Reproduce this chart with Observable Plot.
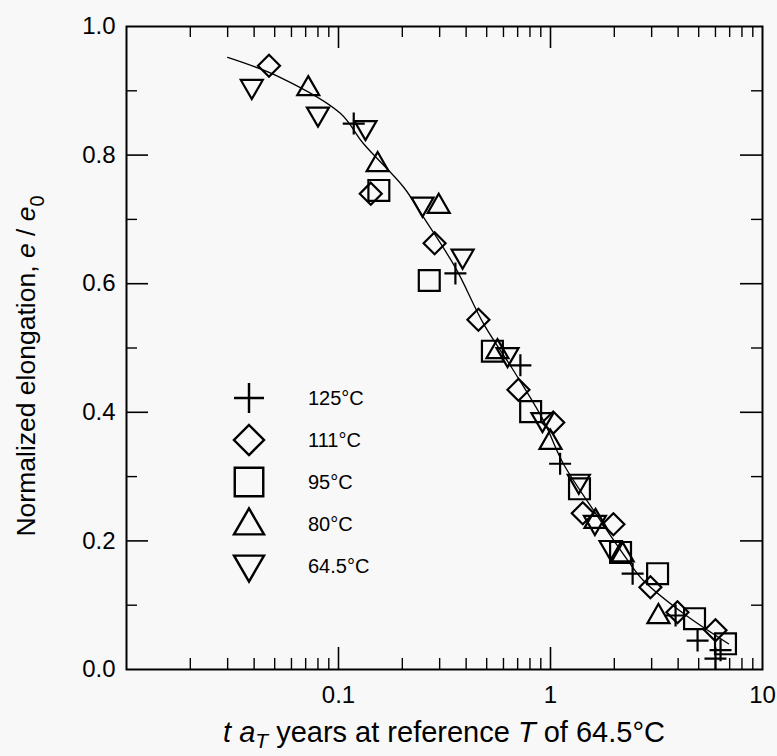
<!DOCTYPE html>
<html>
<head>
<meta charset="utf-8">
<script src="https://cdn.jsdelivr.net/npm/d3@7"></script>
<script src="https://cdn.jsdelivr.net/npm/@observablehq/plot@0.6"></script>
<style>
  html, body { margin: 0; padding: 0; background: #f8f8f8; }
  #wrap { position: relative; width: 777px; height: 756px; overflow: hidden;
          font-family: "Liberation Sans", Arial, sans-serif; color: #000; }
  #chart svg { display: block; }
  .xtitle { position: absolute; left: 0; width: 888px; text-align: center; top: 716px;
            font-size: 29px; line-height: 32px; white-space: nowrap; }
  .xtitle sub { font-size: 0.72em; vertical-align: -0.3em; line-height: 0; }
  .ytitle { position: absolute; left: 26px; top: 366px; transform: translate(-50%, -50%) rotate(-90deg);
            font-size: 26.5px; line-height: 30px; white-space: nowrap; }
  .ytitle sub { font-size: 0.75em; vertical-align: -0.45em; line-height: 0; }
  #legend { position: absolute; left: 234px; top: 383px; }
  .leg-swatches { font-family: "Liberation Sans", Arial, sans-serif; font-size: 20px; margin: 0; color: #000; }
  .leg-swatch { padding-bottom: 12px; }
  .leg-swatch > svg { margin-right: 44px; }
</style>
</head>
<body>
<div id="wrap">
  <div id="chart"></div>
  <div id="legend"></div>
  <div class="ytitle">Normalized elongation, <i>e</i> / <i>e</i><sub>0</sub></div>
  <div class="xtitle"><i>t a</i><sub><i>T</i></sub> years at reference <i>T</i> of 64.5°C</div>
</div>
<script>
// ---- data ----
const seriesNames = ["125°C", "111°C", "95°C", "80°C", "64.5°C"];

const plusX = [0.118, 0.356, 0.721, 1.11, 2.44, 3.89, 4.94, 6.0, 6.34];
const plusY = [0.849, 0.616, 0.473, 0.320, 0.149, 0.084, 0.045, 0.017, 0.030];

const diamondX = [0.047, 0.142, 0.284, 0.457, 0.706, 1.03, 1.42, 1.98, 2.96, 3.97, 6.0];
const diamondY = [0.939, 0.740, 0.663, 0.544, 0.435, 0.384, 0.243, 0.226, 0.128, 0.089, 0.061];

const squareX = [0.155, 0.268, 0.532, 0.806, 1.37, 2.14, 3.2, 4.78, 6.69];
const squareY = [0.745, 0.605, 0.495, 0.401, 0.281, 0.182, 0.149, 0.079, 0.040];

const triUpX = [0.072, 0.153, 0.297, 0.562, 1.0, 1.63, 2.19, 3.23];
const triUpY = [0.905, 0.787, 0.722, 0.496, 0.355, 0.232, 0.180, 0.084];

const triDownX = [0.039, 0.080, 0.134, 0.249, 0.385, 0.627, 0.916, 1.36, 1.62, 1.92];
const triDownY = [0.905, 0.862, 0.841, 0.722, 0.641, 0.488, 0.387, 0.291, 0.227, 0.188];

// fitted master curve
const curveX = [0.030, 0.053, 0.102, 0.131, 0.203, 0.252, 0.356, 0.483, 0.669, 0.927, 1.15, 1.60, 2.31, 2.75, 4.24, 6.91];
const curveY = [0.952, 0.921, 0.865, 0.818, 0.750, 0.703, 0.625, 0.538, 0.465, 0.387, 0.320, 0.247, 0.170, 0.138, 0.087, 0.040];

// axis ticks
const xTickLabels = [0.1, 1, 10];
const xMajorTicks = [0.1, 1];
const xMinorTicks = [0.02,0.03,0.04,0.05,0.06,0.07,0.08,0.09, 0.2,0.3,0.4,0.5,0.6,0.7,0.8,0.9, 2,3,4,5,6,7,8,9];
const yTickLabels = [0, 0.2, 0.4, 0.6, 0.8, 1.0];
const yMajorTicks = [0.2, 0.4, 0.6, 0.8];
const yMinorTicks = [0.1, 0.3, 0.5, 0.7, 0.9];

// ---- symbols ----
const rad = (size) => Math.sqrt(size / Math.PI);
const symPlus = { draw(c, size) { const h = rad(size); c.moveTo(-h, 0); c.lineTo(h, 0); c.moveTo(0, -h); c.lineTo(0, h); } };
const symDiamond = { draw(c, size) { const h = rad(size); c.moveTo(0, -h); c.lineTo(h, 0); c.lineTo(0, h); c.lineTo(-h, 0); c.closePath(); } };
const symSquare = { draw(c, size) { const h = rad(size) * 0.95; c.moveTo(-h, -h); c.lineTo(h, -h); c.lineTo(h, h); c.lineTo(-h, h); c.closePath(); } };
const symUp = { draw(c, size) { const h = rad(size); const t = h * 0.866 * 2; c.moveTo(0, -t * 0.6); c.lineTo(h, t * 0.4); c.lineTo(-h, t * 0.4); c.closePath(); } };
const symDown = { draw(c, size) { const h = rad(size); const t = h * 0.866 * 2; c.moveTo(0, t * 0.6); c.lineTo(h, -t * 0.4); c.lineTo(-h, -t * 0.4); c.closePath(); } };
const symbolRange = [symPlus, symDiamond, symSquare, symUp, symDown];

// ---- build table ----
const seriesX = [plusX, diamondX, squareX, triUpX, triDownX];
const seriesY = [plusY, diamondY, squareY, triUpY, triDownY];
const points = seriesNames.flatMap((name, k) => seriesX[k].map((x, i) => ({x, y: seriesY[k][i], series: name})));
const curve = curveX.map((x, i) => ({x, y: curveY[i]}));

const W = 777, H = 756, mL = 126, mR = 15, mT = 26, mB = 87;
const fw = W - mL - mR, fh = H - mT - mB;
const major = 22, minor = 11;

const chart = Plot.plot({
  width: W, height: H,
  marginLeft: mL, marginRight: mR, marginTop: mT, marginBottom: mB,
  style: { background: "transparent", fontFamily: "'Liberation Sans', Arial, sans-serif", fontSize: "24px", color: "black" },
  x: { type: "log", domain: [0.01, 10] },
  y: { domain: [0, 1] },
  symbol: { domain: seriesNames, range: symbolRange },
  marks: [
    Plot.axisX({ ticks: xTickLabels, tickFormat: d => String(d), tickSize: 0, tickPadding: 16, label: null, fontSize: 24 }),
    Plot.axisY({ ticks: yTickLabels, tickFormat: d3.format(".1f"), tickSize: 0, tickPadding: 11, label: null, fontSize: 24 }),
    // inward ticks, bottom & top
    Plot.ruleX(xMajorTicks, { x: d => d, insetTop: fh - major, strokeWidth: 1.6 }),
    Plot.ruleX(xMajorTicks, { x: d => d, insetBottom: fh - major, strokeWidth: 1.6 }),
    Plot.ruleX(xMinorTicks, { x: d => d, insetTop: fh - minor, strokeWidth: 1.4 }),
    Plot.ruleX(xMinorTicks, { x: d => d, insetBottom: fh - minor, strokeWidth: 1.4 }),
    // inward ticks, left & right
    Plot.ruleY(yMajorTicks, { y: d => d, insetRight: fw - major, strokeWidth: 1.6 }),
    Plot.ruleY(yMajorTicks, { y: d => d, insetLeft: fw - major, strokeWidth: 1.6 }),
    Plot.ruleY(yMinorTicks, { y: d => d, insetRight: fw - minor, strokeWidth: 1.4 }),
    Plot.ruleY(yMinorTicks, { y: d => d, insetLeft: fw - minor, strokeWidth: 1.4 }),
    Plot.line(curve, { x: "x", y: "y", curve: "catmull-rom", stroke: "black", strokeWidth: 1.3 }),
    Plot.dot(points, { x: "x", y: "y", symbol: "series", r: 11, fill: "none", stroke: "black", strokeWidth: 2.2 }),
    Plot.frame({ stroke: "black", strokeWidth: 2 })
  ]
});
document.getElementById("chart").append(chart);

const legend = Plot.legend({
  symbol: { domain: seriesNames, range: symbolRange },
  columns: 1, swatchSize: 30, r: 8, strokeWidth: 1.3, fill: "none", stroke: "black",
  className: "leg"
});
document.getElementById("legend").append(legend);
</script>
</body>
</html>
